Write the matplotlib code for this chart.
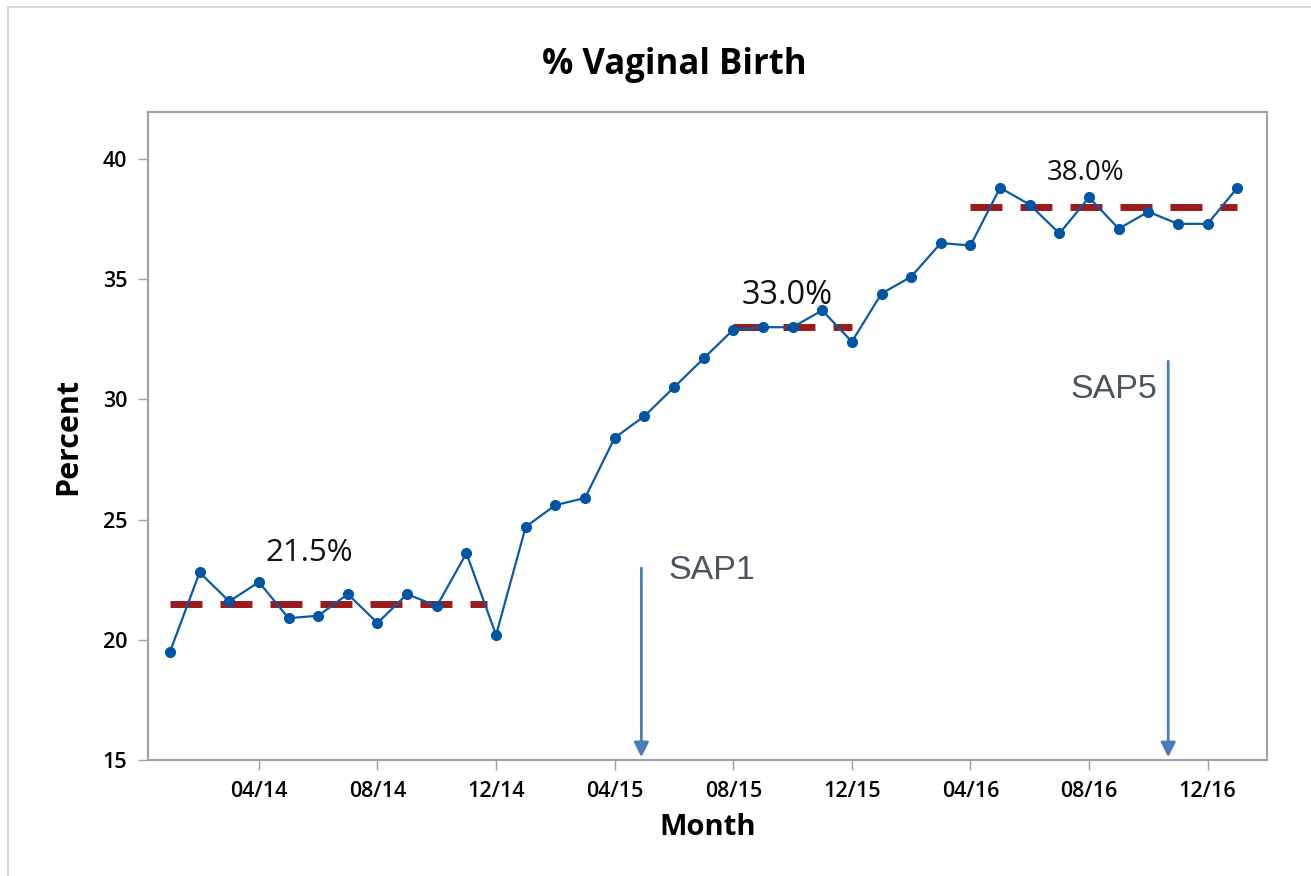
import matplotlib.pyplot as plt
from matplotlib.patches import Rectangle

# monthly values 01/14 .. 01/17
months = list(range(37))
percent = [19.5, 22.8, 21.6, 22.4, 20.9, 21.0, 21.9, 20.7, 21.9, 21.4, 23.6, 20.2,
           24.7, 25.6, 25.9, 28.4, 29.3, 30.5, 31.7, 32.9, 33.0, 33.0, 33.7, 32.4,
           34.4, 35.1, 36.5, 36.4, 38.8, 38.1, 36.9, 38.4, 37.1, 37.8, 37.3, 37.3, 38.8]
tick_pos = [3, 7, 11, 15, 19, 23, 27, 31, 35]
tick_labels = ['04/14', '08/14', '12/14', '04/15', '08/15', '12/15', '04/16', '08/16', '12/16']

# phase means: (start, end, level, label)
phases = [(0, 10.7, 21.5, '21.5%'), (19, 23, 33.0, '33.0%'), (27, 36, 38.0, '38.0%')]
phase_labels_pos = [(4.7, 23.6, 22.5), (20.8, 34.3, 23.5), (30.9, 39.4, 20)]

# interventions: (name, month, arrow top)
saps = [('SAP1', 15.9, 23.1), ('SAP5', 33.67, 31.7)]

plt.rcParams['font.family'] = ['Open Sans', 'DejaVu Sans']

fig = plt.figure(figsize=(13.11, 8.76), dpi=100)
fig.patches.append(Rectangle((0.006, -0.01), 1.0, 1.002, transform=fig.transFigure,
                             fill=False, edgecolor='#d0d0d0', linewidth=1.2))
ax = fig.add_axes([0.1129, 0.1324, 0.8535, 0.7397])

for (x0, x1, lvl, lab), (tx, ty, fs) in zip(phases, phase_labels_pos):
    ax.plot([x0, x1], [lvl, lvl], color='#9b1a1a', linewidth=5, dashes=(4.6, 2.6), zorder=2)
    ax.text(tx, ty, lab, fontsize=fs, ha='center', va='center', color='#111111')

ax.plot(months, percent, color='#0a5aaa', linewidth=1.6, marker='o',
        markersize=7, markerfacecolor='#0055a5', markeredgecolor='#0055a5', zorder=3)

for name, xm, top in saps:
    ax.annotate('', xy=(xm, 15.0), xytext=(xm, top),
                arrowprops=dict(arrowstyle='-|>', color='#4a7ebb', lw=2,
                                mutation_scale=22))
ax.text(16.8, 22.9, 'SAP1', fontsize=24.5, color='#4a5560', family=['Liberation Sans'],
        ha='left', va='center')
ax.text(33.3, 30.4, 'SAP5', fontsize=24.5, color='#4a5560', family=['Liberation Sans'],
        ha='right', va='center')

ax.set_xlim(-0.74, 37.0)
ax.set_ylim(15, 41.95)
ax.set_xticks(tick_pos)
ax.set_xticklabels(tick_labels, fontsize=15.5, fontweight='semibold')
ax.set_yticks([15, 20, 25, 30, 35, 40])
ax.set_yticklabels(['15', '20', '25', '30', '35', '40'], fontsize=15.5, fontweight='semibold')
ax.tick_params(direction='out', length=7, width=1, color='#a0a0a0', pad=8)
for s in ax.spines.values():
    s.set_color('#a0a0a0')
    s.set_linewidth(1.5)

fig.text(0.514, 0.926, '% Vaginal Birth', fontsize=25, fontweight='bold',
         ha='center', va='center')
ax.set_xlabel('Month', fontsize=21, fontweight='bold', labelpad=8)
ax.set_ylabel('Percent', fontsize=22, fontweight='bold', labelpad=14)

fig.savefig('out.png', dpi=100)
